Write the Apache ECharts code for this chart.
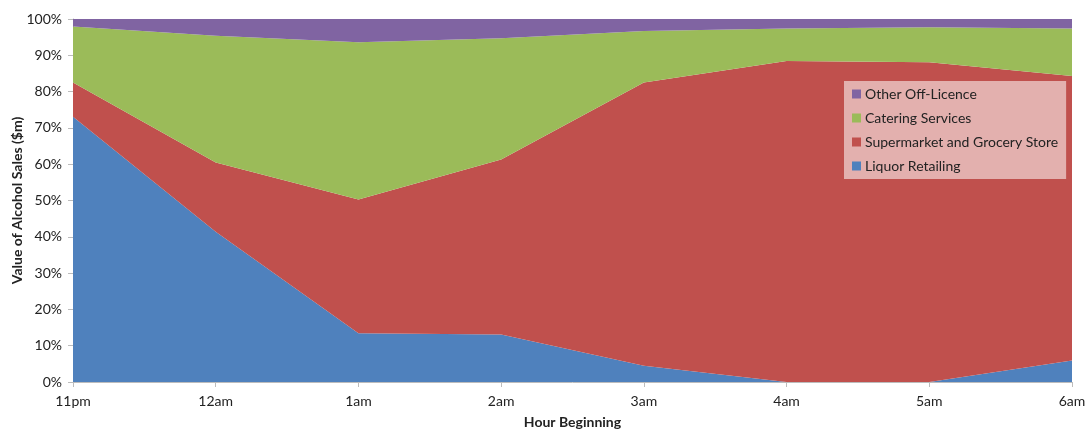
<!DOCTYPE html>
<html>
<head>
<meta charset="utf-8">
<script src="https://cdn.jsdelivr.net/npm/echarts@6/dist/echarts.min.js"></script>
<style>
  html, body { margin: 0; padding: 0; background: #ffffff; }
  #chart { width: 1092px; height: 430px; }
</style>
</head>
<body>
<div id="chart"></div>
<script>
// Hour of sale, overnight
const hours = ['11pm', '12am', '1am', '2am', '3am', '4am', '5am', '6am'];

// Share of alcohol sales value by outlet type (%)
const liquorRetailing = [73.1, 41.4, 13.4, 13.1, 4.5, 0, 0, 5.9];
const supermarketGrocery = [9.4, 19.1, 36.9, 48.2, 78.0, 88.4, 88.1, 78.4];
const cateringServices = [15.4, 34.9, 43.3, 33.4, 14.2, 9.0, 9.6, 13.1];
const otherOffLicence = [2.1, 4.6, 6.4, 5.3, 3.3, 2.6, 2.3, 2.6];

const yTicks = [0, 10, 20, 30, 40, 50, 60, 70, 80, 90, 100];

const font = 'Lato, "Open Sans", sans-serif';

function areaSeries(name, data, color) {
  return {
    name: name,
    type: 'line',
    stack: 'share',
    data: data,
    symbol: 'none',
    lineStyle: { width: 0 },
    areaStyle: { color: color, opacity: 1 },
    itemStyle: { color: color },
    emphasis: { disabled: true }
  };
}

const chart = echarts.init(document.getElementById('chart'), null, { renderer: 'canvas' });
chart.setOption({
  animation: false,
  backgroundColor: '#ffffff',
  grid: { left: 73, right: 20, top: 19, bottom: 48, containLabel: false, outerBoundsMode: 'none' },
  legend: {
    orient: 'vertical',
    left: 844,
    top: 81,
    width: 218,
    padding: [6, 8, 6, 8],
    backgroundColor: 'rgba(255,255,255,0.55)',
    itemWidth: 9,
    itemHeight: 9,
    itemGap: 10,
    icon: 'rect',
    textStyle: { fontFamily: font, fontSize: 14, color: '#222', padding: [0, 0, 0, -1] },
    data: ['Other Off-Licence', 'Catering Services', 'Supermarket and Grocery Store', 'Liquor Retailing']
  },
  xAxis: {
    type: 'category',
    data: hours,
    boundaryGap: false,
    name: 'Hour Beginning',
    nameLocation: 'middle',
    nameGap: 33,
    nameMoveOverlap: false,
    nameTextStyle: { fontFamily: font, fontSize: 14, fontWeight: 'bold', color: '#222' },
    axisLine: { lineStyle: { color: '#bcbcbc', width: 1 } },
    axisTick: { show: true, alignWithLabel: true, length: 5, lineStyle: { color: '#bcbcbc' } },
    axisLabel: { fontFamily: font, fontSize: 14, color: '#222', margin: 12 },
    splitLine: { show: false }
  },
  yAxis: {
    type: 'value',
    min: 0,
    max: 100,
    interval: 10,
    name: 'Value of Alcohol Sales ($m)',
    nameLocation: 'middle',
    nameGap: 49,
    nameMoveOverlap: false,
    nameTextStyle: { fontFamily: font, fontSize: 14, fontWeight: 'bold', color: '#222' },
    axisLine: { show: true, lineStyle: { color: '#bcbcbc', width: 1 } },
    axisTick: { show: true, length: 5, lineStyle: { color: '#bcbcbc' } },
    axisLabel: {
      fontFamily: font, fontSize: 14, color: '#222', margin: 11,
      formatter: function (v) { return yTicks.indexOf(v) >= 0 ? v + '%' : ''; }
    },
    splitLine: { show: false }
  },
  series: [
    areaSeries('Liquor Retailing', liquorRetailing, '#4F81BD'),
    areaSeries('Supermarket and Grocery Store', supermarketGrocery, '#C0504D'),
    areaSeries('Catering Services', cateringServices, '#9BBB59'),
    areaSeries('Other Off-Licence', otherOffLicence, '#8064A2')
  ]
});
</script>
</body>
</html>
